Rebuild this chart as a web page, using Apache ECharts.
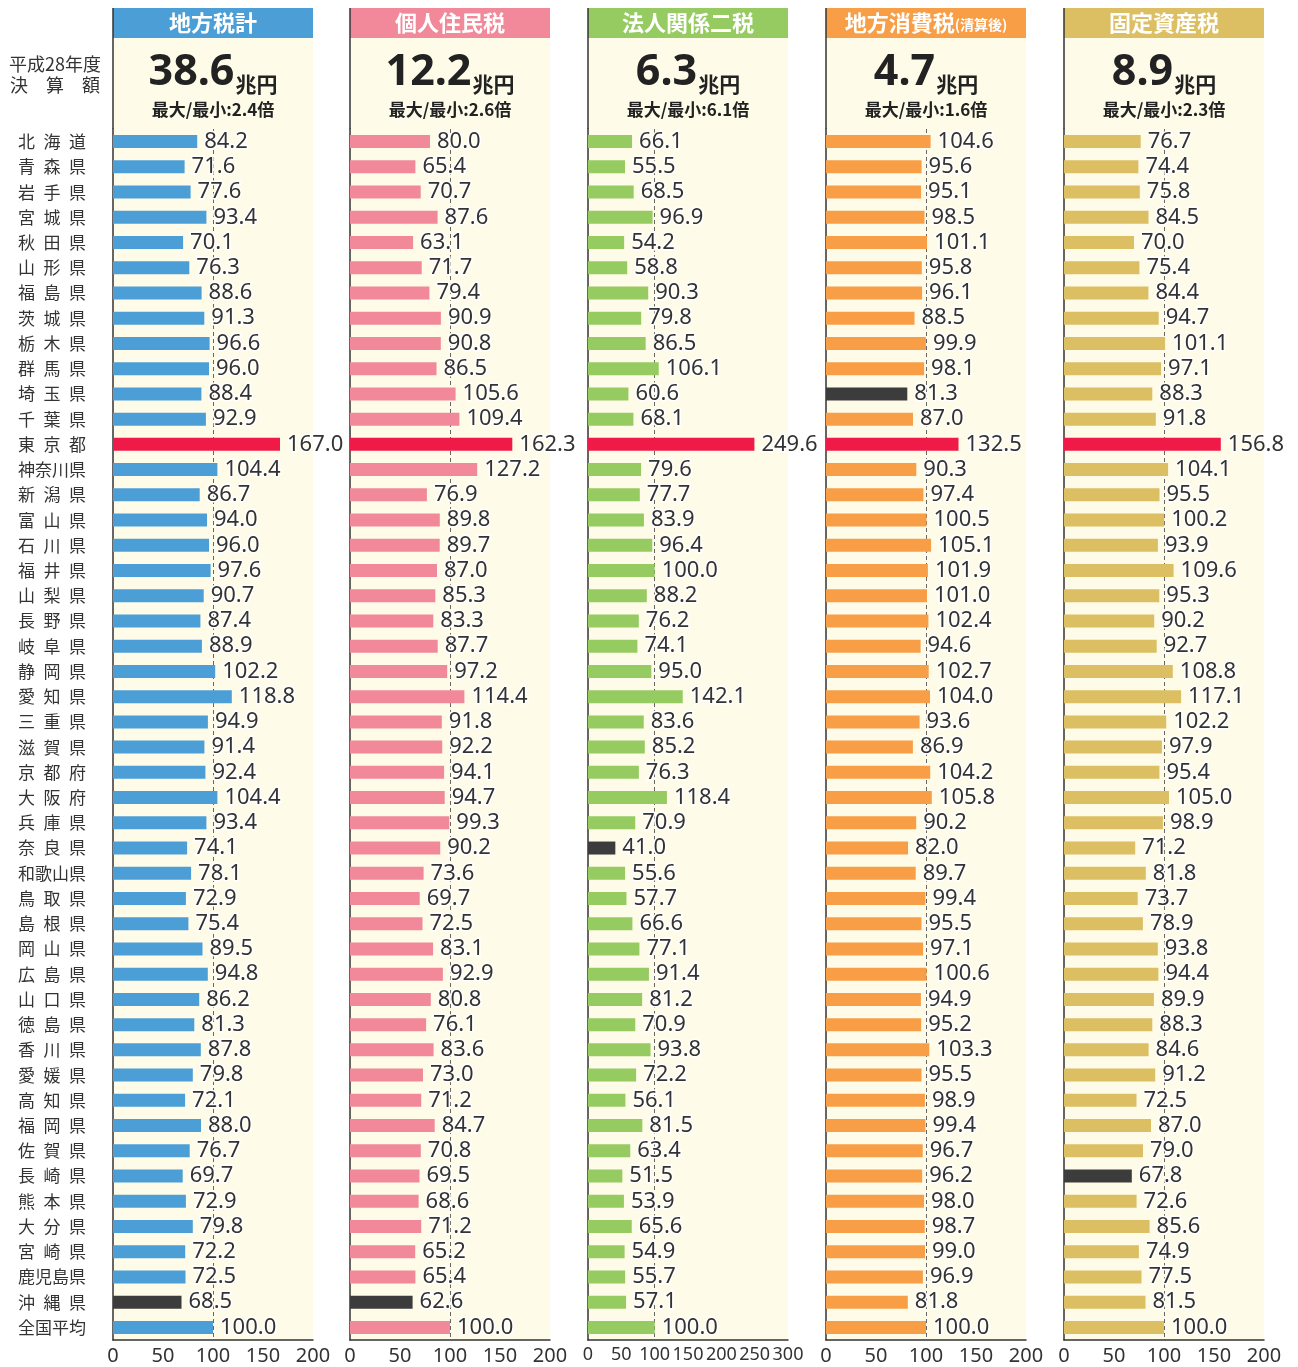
<!DOCTYPE html>
<html><head><meta charset="utf-8">
<script src="https://cdn.jsdelivr.net/npm/echarts@6/dist/echarts.min.js"></script>
<style>html,body{margin:0;padding:0;background:#fff}#c{width:1298px;height:1367px}</style>
</head><body><div id="c"></div>
<script>
const categories = ['北海道','青森県','岩手県','宮城県','秋田県','山形県','福島県','茨城県','栃木県','群馬県','埼玉県','千葉県','東京都','神奈川県','新潟県','富山県','石川県','福井県','山梨県','長野県','岐阜県','静岡県','愛知県','三重県','滋賀県','京都府','大阪府','兵庫県','奈良県','和歌山県','鳥取県','島根県','岡山県','広島県','山口県','徳島県','香川県','愛媛県','高知県','福岡県','佐賀県','長崎県','熊本県','大分県','宮崎県','鹿児島県','沖縄県','全国平均'];

const localTaxTotal = [84.2,71.6,77.6,93.4,70.1,76.3,88.6,91.3,96.6,96.0,88.4,92.9,167.0,104.4,86.7,94.0,96.0,97.6,90.7,87.4,88.9,102.2,118.8,94.9,91.4,92.4,104.4,93.4,74.1,78.1,72.9,75.4,89.5,94.8,86.2,81.3,87.8,79.8,72.1,88.0,76.7,69.7,72.9,79.8,72.2,72.5,68.5,100.0];
const residentTax = [80.0,65.4,70.7,87.6,63.1,71.7,79.4,90.9,90.8,86.5,105.6,109.4,162.3,127.2,76.9,89.8,89.7,87.0,85.3,83.3,87.7,97.2,114.4,91.8,92.2,94.1,94.7,99.3,90.2,73.6,69.7,72.5,83.1,92.9,80.8,76.1,83.6,73.0,71.2,84.7,70.8,69.5,68.6,71.2,65.2,65.4,62.6,100.0];
const corporateTax = [66.1,55.5,68.5,96.9,54.2,58.8,90.3,79.8,86.5,106.1,60.6,68.1,249.6,79.6,77.7,83.9,96.4,100.0,88.2,76.2,74.1,95.0,142.1,83.6,85.2,76.3,118.4,70.9,41.0,55.6,57.7,66.6,77.1,91.4,81.2,70.9,93.8,72.2,56.1,81.5,63.4,51.5,53.9,65.6,54.9,55.7,57.1,100.0];
const consumptionTax = [104.6,95.6,95.1,98.5,101.1,95.8,96.1,88.5,99.9,98.1,81.3,87.0,132.5,90.3,97.4,100.5,105.1,101.9,101.0,102.4,94.6,102.7,104.0,93.6,86.9,104.2,105.8,90.2,82.0,89.7,99.4,95.5,97.1,100.6,94.9,95.2,103.3,95.5,98.9,99.4,96.7,96.2,98.0,98.7,99.0,96.9,81.8,100.0];
const propertyTax = [76.7,74.4,75.8,84.5,70.0,75.4,84.4,94.7,101.1,97.1,88.3,91.8,156.8,104.1,95.5,100.2,93.9,109.6,95.3,90.2,92.7,108.8,117.1,102.2,97.9,95.4,105.0,98.9,71.2,81.8,73.7,78.9,93.8,94.4,89.9,88.3,84.6,91.2,72.5,87.0,79.0,67.8,72.6,85.6,74.9,77.5,81.5,100.0];

const panelTitles = ['地方税計','個人住民税','法人関係二税','地方消費税','固定資産税'];
const panelTitleNotes = ['','','','(清算後)',''];
const panelTotals = ['38.6','12.2','6.3','4.7','8.9'];
const panelRatios = ['2.4','2.6','6.1','1.6','2.3'];
const axisMax = [200,200,300,200,200];
const axisTicks = [[0,50,100,150,200],[0,50,100,150,200],[0,50,100,150,200,250,300],[0,50,100,150,200],[0,50,100,150,200]];
const headerLabel = ['平成28年度','決　算　額'];

const seriesData = [localTaxTotal, residentTax, corporateTax, consumptionTax, propertyTax];
const colors = ['#4b9fd6','#f2899a','#96cb62','#f89e46','#dcbf62'];
const maxColor = '#ef1a47';
const minColor = '#3c3c3c';
const cream = '#fefbe9';
const lefts = [113, 350, 588, 826, 1064];
const W = 200, TOP = 129, BOTTOM = 27, H = 1367 - TOP - BOTTOM;
const NUMFONT = '"Noto Sans", "Noto Sans CJK JP", sans-serif';
const JPFONT = '"Noto Sans CJK JP", sans-serif';

function spaced(name) {
  return name.length === 3 ? name.split('').join('\u2002') : name;
}

const grids = [], xAxes = [], yAxes = [], series = [], graphics = [];
seriesData.forEach((arr, i) => {
  const prefs = arr.slice(0, arr.length - 1);
  const mx = Math.max(...prefs), mn = Math.min(...prefs);
  grids.push({ left: lefts[i], top: TOP, width: W, height: H, show: false });
  xAxes.push({
    type: 'value', gridIndex: i, min: 0, max: axisMax[i], interval: 50,
    splitLine: { show: false }, axisTick: { show: false },
    axisLine: { show: true, lineStyle: { color: '#333', width: 1.5 } },
    axisLabel: { color: '#333', fontSize: i === 2 ? 18 : 20, fontFamily: NUMFONT, margin: 6,
      formatter: v => axisTicks[i].indexOf(v) >= 0 ? String(v) : '' }
  });
  yAxes.push({
    type: 'category', gridIndex: i, data: categories, inverse: true,
    axisTick: { show: false },
    axisLine: { show: true, lineStyle: { color: '#333', width: 1.5 } },
    axisLabel: i === 0 ? { show: true, align: 'left', margin: 95, color: '#333', fontSize: 17, fontFamily: JPFONT, formatter: spaced } : { show: false }
  });
  series.push({
    type: 'bar', xAxisIndex: i, yAxisIndex: i, barWidth: 13,
    data: arr.map((v, k) => ({ value: v, itemStyle: { color: (k < arr.length - 1 && v === mx) ? maxColor : (k < arr.length - 1 && v === mn) ? minColor : colors[i] } })),
    label: { show: true, position: 'right', distance: 7, formatter: p => p.value.toFixed(1),
      fontSize: 22, fontFamily: NUMFONT, color: '#333', textBorderColor: '#fff', textBorderWidth: 3 },
    markLine: { silent: true, symbol: 'none', label: { show: false },
      lineStyle: { color: '#666', type: [4, 3], width: 1 }, data: [{ xAxis: 100 }], z: 1 },
    z: 3
  });
  graphics.push({ type: 'rect', z: -10, shape: { x: lefts[i], y: 38, width: W, height: 1367 - BOTTOM - 38 }, style: { fill: cream } });
  graphics.push({ type: 'rect', z: -5, shape: { x: lefts[i], y: 8, width: W, height: 30 }, style: { fill: colors[i] } });
  graphics.push({ type: 'line', z: 5, shape: { x1: lefts[i], y1: 8, x2: lefts[i], y2: TOP }, style: { stroke: '#333', lineWidth: 1.5 } });
  graphics.push({ type: 'text', z: 6, x: lefts[i] + W / 2, y: 23,
    style: { text: panelTitleNotes[i] ? '{t|' + panelTitles[i] + '}{n|' + panelTitleNotes[i] + '}' : '{t|' + panelTitles[i] + '}',
      align: 'center', verticalAlign: 'middle', fill: '#fff',
      rich: { t: { fontSize: 22, fontWeight: 'bold', fontFamily: JPFONT, fill: '#fff', verticalAlign: 'bottom' },
              n: { fontSize: 14, fontWeight: 'bold', fontFamily: JPFONT, fill: '#fff', verticalAlign: 'bottom', padding: [0,0,2,0] } } } });
  graphics.push({ type: 'text', z: 6, x: lefts[i] + W / 2, y: 73,
    style: { text: '{a|' + panelTotals[i] + '}{b|兆円}', align: 'center', verticalAlign: 'middle',
      rich: { a: { fontSize: 43, fontWeight: 'bold', fontFamily: NUMFONT, fill: '#222', verticalAlign: 'bottom' },
              b: { fontSize: 21, fontWeight: 'bold', fontFamily: JPFONT, fill: '#222', verticalAlign: 'bottom', padding: [0,0,0,1] } } } });
  graphics.push({ type: 'text', z: 6, x: lefts[i] + W / 2, y: 110,
    style: { text: '最大/最小:' + panelRatios[i] + '倍', align: 'center', verticalAlign: 'middle',
      fontSize: 17, fontWeight: 'bold', fontFamily: JPFONT, fill: '#222' } });
});
graphics.push({ type: 'text', x: 55, y: 64, style: { text: headerLabel[0], align: 'center', verticalAlign: 'middle', fontSize: 18, fontFamily: JPFONT, fill: '#333' } });
graphics.push({ type: 'text', x: 55, y: 85, style: { text: headerLabel[1], align: 'center', verticalAlign: 'middle', fontSize: 18, fontFamily: JPFONT, fill: '#333' } });

const chart = echarts.init(document.getElementById('c'));
chart.setOption({
  animation: false,
  backgroundColor: '#fff',
  grid: grids, xAxis: xAxes, yAxis: yAxes, series: series, graphic: graphics
});
</script></body></html>
